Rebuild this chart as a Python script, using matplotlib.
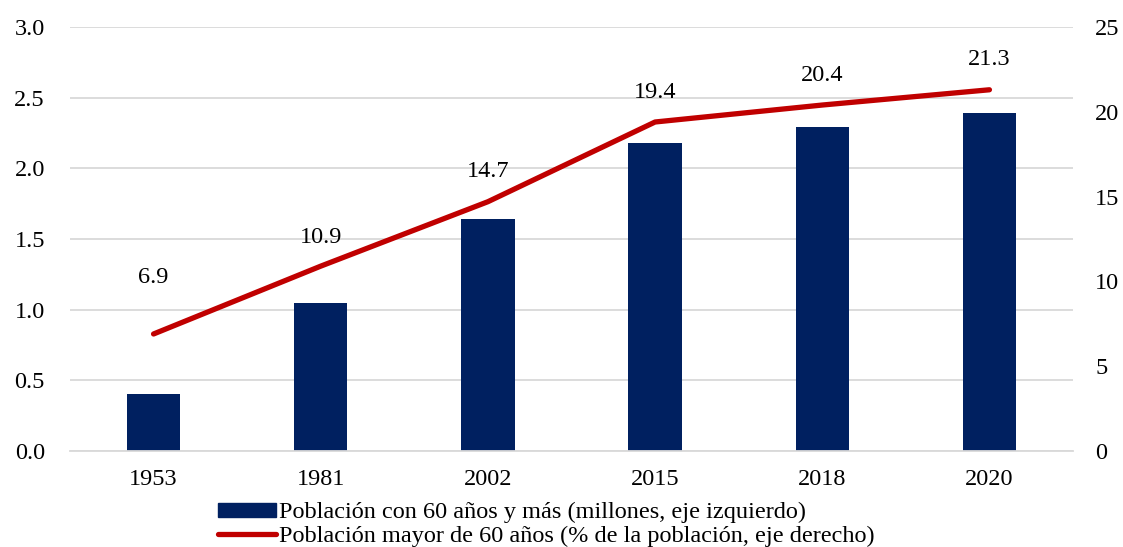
import matplotlib

matplotlib.use("Agg")
import matplotlib.pyplot as plt
import numpy as np
from matplotlib.lines import Line2D
from matplotlib.patches import Patch

plt.rcParams["font.family"] = ["Liberation Serif", "DejaVu Serif"]

years = ["1953", "1981", "2002", "2015", "2018", "2020"]
pop_millions = [0.40, 1.05, 1.64, 2.18, 2.29, 2.39]
pop_share = [6.9, 10.9, 14.7, 19.4, 20.4, 21.3]

BAR_COLOR = "#002060"
LINE_COLOR = "#C00000"
GRID_COLOR = "#D9D9D9"
FS = 17.5

fig = plt.figure(figsize=(11.23, 5.47), dpi=100)
ax = fig.add_axes([0.0623, 0.1755, 0.8932, 0.7751])
ax2 = ax.twinx()

x = np.arange(len(years))
ax.bar(x, pop_millions, width=0.32, color=BAR_COLOR, zorder=2)
ax.set_ylim(0, 3.0)
ax.set_yticks(np.arange(0, 3.01, 0.5))
ax.set_yticklabels([f"{v:.1f}" for v in np.arange(0, 3.01, 0.5)])
ax.set_xlim(-0.5, len(years) - 0.5)
ax.set_xticks(x)
ax.set_xticklabels(years)
ax.grid(axis="y", color=GRID_COLOR, linewidth=1.3, zorder=0)
ax.set_axisbelow(True)

ax2.plot(x, pop_share, color=LINE_COLOR, linewidth=3.8, solid_capstyle="round", zorder=3)
ax2.set_ylim(0, 25)
ax2.set_yticks(range(0, 26, 5))

# etiquetas sobre la línea (la primera está más arriba en el original)
label_offsets = [33, 13, 14, 14, 14, 14]
for xi, v, off in zip(x, pop_share, label_offsets):
    ax2.annotate(f"{v:.1f}", (xi, v), xytext=(0, off), textcoords="offset points",
                 ha="center", va="bottom", fontsize=FS, color="#000000")

for a in (ax, ax2):
    for s in a.spines.values():
        s.set_visible(False)
    a.tick_params(length=0, labelsize=FS, colors="#000000")
ax.spines["bottom"].set_visible(True)
ax.spines["bottom"].set_color(GRID_COLOR)
ax.spines["bottom"].set_linewidth(1.3)
ax.tick_params(axis="y", pad=18)
ax.tick_params(axis="x", pad=13)
ax2.tick_params(axis="y", pad=16)

handles = [
    Patch(facecolor=BAR_COLOR, edgecolor=BAR_COLOR),
    Line2D([0], [0], color=LINE_COLOR, linewidth=3.8, solid_capstyle="round"),
]
labels = [
    "Población con 60 años y más (millones, eje izquierdo)",
    "Población mayor de 60 años (% de la población, eje derecho)",
]
fig.legend(handles, labels, loc="upper left", bbox_to_anchor=(0.194, 0.082),
           frameon=False, fontsize=FS, handlelength=2.4, handleheight=0.5,
           handletextpad=0.1, labelspacing=0.1, borderpad=0, borderaxespad=0)

fig.savefig("out.png", dpi=100)
